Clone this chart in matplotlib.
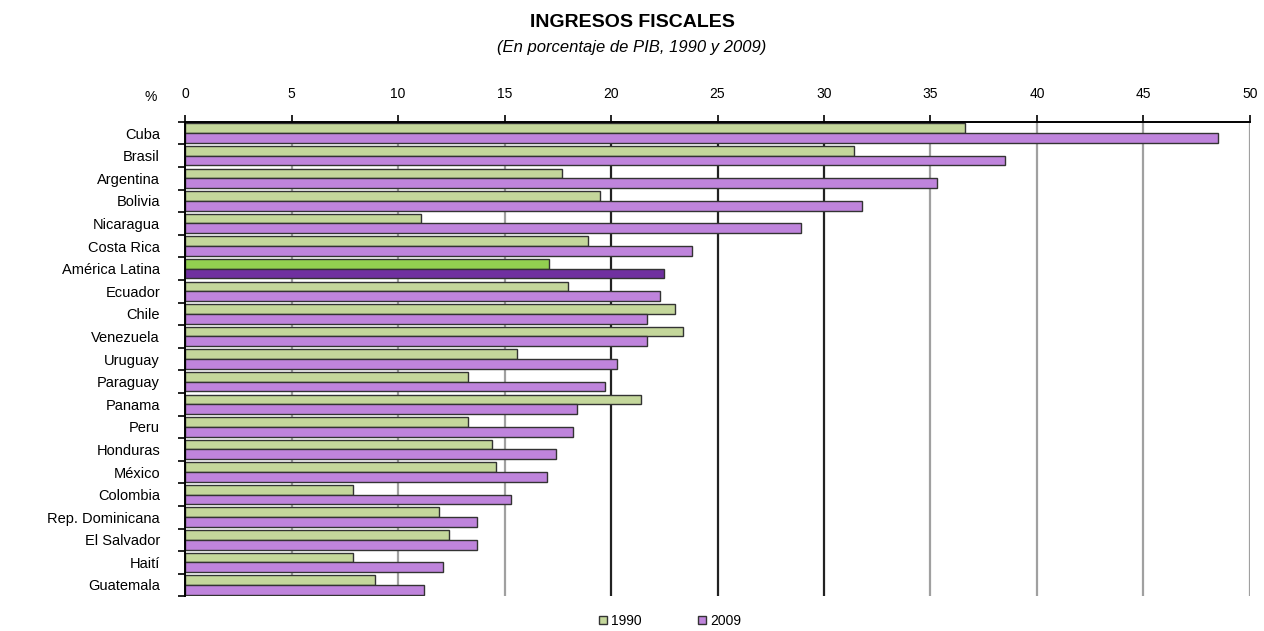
import matplotlib.pyplot as plt
import numpy as np

# Datos (porcentaje del PIB)
paises = ["Cuba", "Brasil", "Argentina", "Bolivia", "Nicaragua", "Costa Rica",
          "América Latina", "Ecuador", "Chile", "Venezuela", "Uruguay", "Paraguay",
          "Panama", "Peru", "Honduras", "México", "Colombia", "Rep. Dominicana",
          "El Salvador", "Haití", "Guatemala"]
v1990 = [36.6, 31.4, 17.7, 19.5, 11.1, 18.9, 17.1, 18.0, 23.0, 23.4, 15.6, 13.3,
         21.4, 13.3, 14.4, 14.6, 7.9, 11.9, 12.4, 7.9, 8.9]
v2009 = [48.5, 38.5, 35.3, 31.8, 28.9, 23.8, 22.5, 22.3, 21.7, 21.7, 20.3, 19.7,
         18.4, 18.2, 17.4, 17.0, 15.3, 13.7, 13.7, 12.1, 11.2]
ticks_x = [0, 5, 10, 15, 20, 25, 30, 35, 40, 45, 50]

plt.rcParams['font.family'] = ['Liberation Sans', 'DejaVu Sans']

fig = plt.figure(figsize=(12.64, 6.31), dpi=100)
ax = fig.add_axes([0.1464, 0.055, 0.8425, 0.752])

n = len(paises)
y = np.arange(n)
h = 0.43

c90 = ['#92d050' if p == "América Latina" else '#c4d79b' for p in paises]
c09 = ['#7030a0' if p == "América Latina" else '#bf84dc' for p in paises]

# gridlines (20-30 más oscuras como en el original)
for t in ticks_x[1:]:
    col = '#222222' if t in (20, 25, 30) else '#a0a0a0'
    ax.axvline(t, color=col, lw=1.6, zorder=0)

ax.barh(y - h / 2, v1990, height=h, color=c90, edgecolor='#333333', lw=1.0,
        label='1990', zorder=2)
ax.barh(y + h / 2, v2009, height=h, color=c09, edgecolor='#333333', lw=1.0,
        label='2009', zorder=2)

ax.set_xlim(0, 50)
ax.set_ylim(n - 0.5, -0.5)
ax.xaxis.tick_top()
ax.set_xticks(ticks_x)
ax.tick_params(axis='x', length=5, width=1.2, labelsize=10, pad=10)
ax.set_yticks(y)
ax.set_yticklabels(paises)
ax.tick_params(axis='y', which='major', length=0, labelsize=10.5, pad=18)
ax.set_yticks(np.arange(n + 1) - 0.5, minor=True)
ax.tick_params(axis='y', which='minor', length=5, width=1.2)

for s in ['right', 'bottom']:
    ax.spines[s].set_visible(False)
ax.spines['top'].set_linewidth(1.4)
ax.spines['left'].set_linewidth(1.4)

fig.text(0.119, 0.846, '%', ha='center', va='center', fontsize=10)

fig.text(0.5, 0.965, 'INGRESOS FISCALES', ha='center', va='center',
         fontsize=14, fontweight='bold')
fig.text(0.5, 0.925, '(En porcentaje de PIB, 1990 y 2009)', ha='center',
         va='center', fontsize=12, style='italic')

fig.legend(loc='center', bbox_to_anchor=(0.53, 0.016), ncol=2, frameon=False,
           handlelength=0.6, handleheight=0.6, columnspacing=4,
           handletextpad=0.3, fontsize=10, borderpad=0.1)

fig.savefig('out.png', dpi=100)
